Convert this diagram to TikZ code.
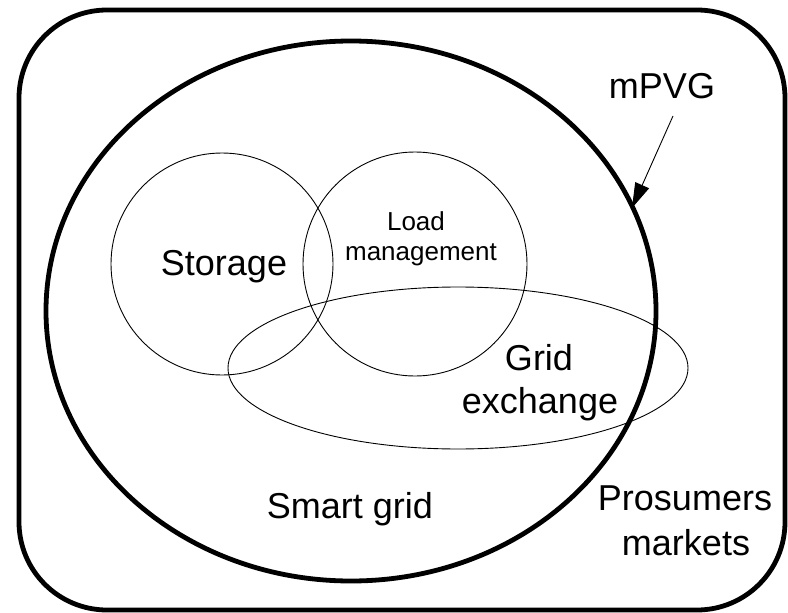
\documentclass[tikz,border=0pt]{standalone}
\usepackage{fontspec}
\setmainfont{Liberation Sans}
\usetikzlibrary{arrows.meta}
\begin{document}
\begin{tikzpicture}[x=1pt,y=-1pt,
  bigline/.style={line width=4.8pt},
  thinline/.style={line width=0.9pt},
  lbl/.style={font=\fontsize{36}{43}\selectfont, inner sep=0pt, anchor=base},
  smalllbl/.style={font=\fontsize{26}{30}\selectfont, inner sep=0pt, anchor=base}]
\useasboundingbox (0,0) rectangle (788,613);
% outer frame
\draw[bigline, rounded corners=88pt] (19,10) rectangle (785,610);
% mPVG blob
\draw[bigline] (351,311) ellipse [x radius=305pt, y radius=270pt];
% storage, load management, grid exchange
\draw[thinline] (222,264) circle [radius=111pt];
\draw[thinline] (415,264) circle [radius=112pt];
\draw[thinline] (458,368) ellipse [x radius=230pt, y radius=81pt];
% labels
\node[lbl] (mpvg) at (662,98) {mPVG};
\node[lbl] (storage) at (224,275) {Storage};
\node[smalllbl] (load1) at (416,230) {Load};
\node[smalllbl] (load2) at (421,260) {management};
\node[lbl] (grid1) at (539,370) {Grid};
\node[lbl] (grid2) at (540,413) {exchange};
\node[lbl] (smart) at (350,518) {Smart grid};
\node[lbl] (pros1) at (685,510) {Prosumers};
\node[lbl] (pros2) at (686,555) {markets};
% arrow
\coordinate (arrS) at (673,116);
\coordinate (arrT) at (632,208);
\draw[line width=0.9pt, -{Triangle[length=25pt,width=15pt]}] (arrS) -- (arrT);
\end{tikzpicture}
\end{document}
